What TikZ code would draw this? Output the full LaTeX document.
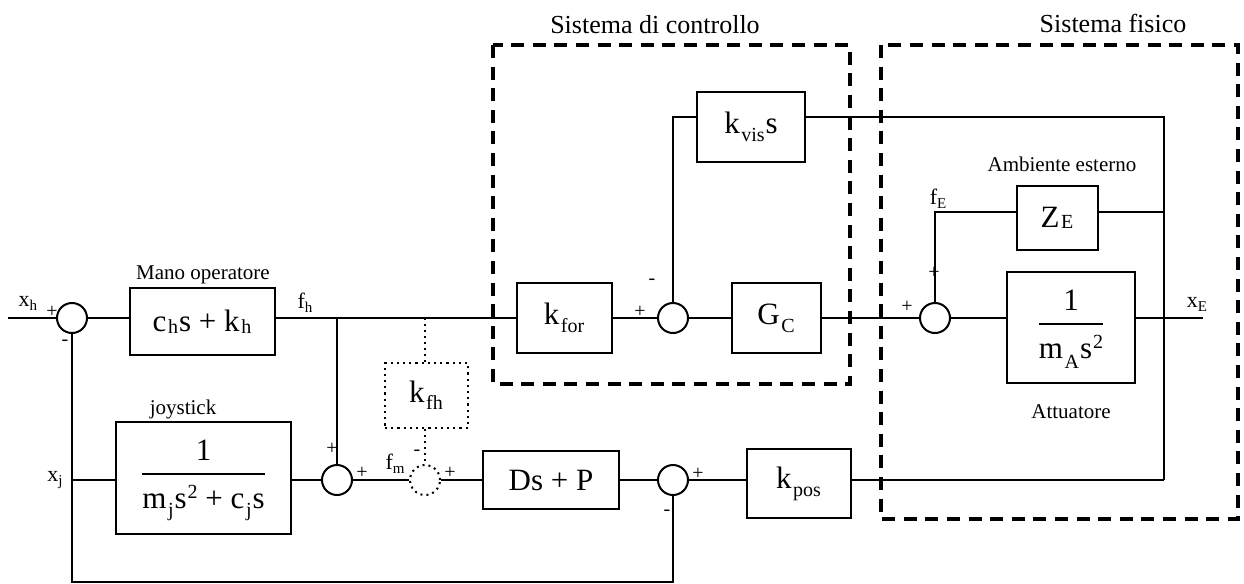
\documentclass[tikz,border=0pt]{standalone}
\usepackage{fontspec}
\setmainfont{Liberation Serif}
\usetikzlibrary{positioning}
\newcommand{\blkfont}{\fontsize{15.5}{18}\selectfont}
\newcommand{\subtx}[2][4pt]{\kern0.8pt\raisebox{-#1}{\fontsize{10}{11}\selectfont #2}\kern0.5pt}
\newcommand{\suptx}[1]{\kern0.5pt\raisebox{5pt}{\fontsize{10}{11}\selectfont #1}}
\newcommand{\lsub}[1]{\raisebox{-2pt}{\fontsize{7.5}{8}\selectfont #1}}
\newcommand{\blkfrac}[2]{\setlength{\arrayrulewidth}{0.8pt}%
  \begin{tabular}{@{}c@{}}#1\\[1pt]\hline\rule{0pt}{17pt}#2\end{tabular}}
\tikzset{
  ln/.style   = {line width=1pt},
  blk/.style  = {rectangle, draw, line width=1.1pt, inner sep=0pt,
                 font=\blkfont, align=center},
  blkd/.style = {blk, dotted, line width=1pt},
  sj/.style   = {circle, draw, line width=1pt, minimum size=15pt, inner sep=0pt},
  sjd/.style  = {sj, dotted},
  sgn/.style  = {font=\fontsize{10}{11}\selectfont, inner sep=0pt},
  lbl/.style  = {font=\fontsize{11}{12}\selectfont, inner sep=0pt},
  note/.style = {font=\fontsize{10.5}{12}\selectfont, inner sep=0pt},
  ttl/.style  = {font=\fontsize{13}{15}\selectfont, inner sep=0pt},
  grp/.style  = {draw, line width=2pt, dash pattern=on 6.5pt off 4.3pt},
}
\begin{document}
\begin{tikzpicture}[x=0.5pt,y=-0.5pt]
  \useasboundingbox (0,0) rectangle (1244,584);

  % --- frames
  \draw[grp] (493,45) rectangle (850,384);
  \draw[grp] (881,45) rectangle (1238,519);
  \node[ttl] (tctl) at (655,25) {Sistema di controllo};
  \node[ttl] (tfis) at (1113,23) {Sistema fisico};

  % --- upper row
  \node[sj] (s1) at (72,318) {};
  \node[blk, minimum width=72.5pt, minimum height=33.5pt] (hand) at (202.5,321.5)
    {c\subtx[1pt]{h}s + k\subtx[1pt]{h}};
  \node[blk, minimum width=47.5pt, minimum height=35pt] (kfor) at (564.5,318)
    {k\subtx{for}};
  \node[sj] (s2) at (673,318) {};
  \node[blk, minimum width=44.5pt, minimum height=35pt] (gc) at (776.5,318)
    {G\subtx{C}};
  \node[blk, minimum width=54pt, minimum height=35pt] (kvis) at (751,127)
    {k\subtx{vis}s};
  \node[sj] (s4) at (935,318) {};
  \node[blk, minimum width=40.5pt, minimum height=32pt] (ze) at (1057.5,218)
    {Z\subtx[0.5pt]{E}};
  \node[blk, minimum width=64pt, minimum height=55.5pt] (act) at (1071,327.5)
    {\blkfrac{1}{m\subtx[5pt]{A}s\suptx{2}}};

  % --- lower row
  \node[blk, minimum width=87.5pt, minimum height=56pt] (joy) at (203.5,478)
    {\blkfrac{1}{m\subtx{j}s\suptx{2} + c\subtx{j}s}};
  \node[sj] (s3) at (337,480) {};
  \node[sjd] (sm) at (425,480) {};
  \node[blkd, minimum width=41.5pt, minimum height=32.5pt] (kfh) at (426.5,395.5)
    {k\subtx[3.5pt]{fh}};
  \node[blk, minimum width=68pt, minimum height=29pt] (pd) at (551,480) {Ds + P};
  \node[sj] (s5) at (673,480) {};
  \node[blk, minimum width=52pt, minimum height=34.5pt] (kpos) at (799,483.5)
    {k\subtx{pos}};

  % --- points
  \coordinate (xin) at (8,318);
  \coordinate (fh) at (337,318);
  \coordinate (tap) at (425,318);
  \coordinate (vt) at (0,117);
  \coordinate (zt) at (0,212);
  \coordinate (rvb) at (1164,480);
  \coordinate (xout) at (1203,318);
  \coordinate (xj) at (72,480);
  \coordinate (bl) at (72,582);

  % --- connectors
  \draw[ln] (xin) -- (s1);
  \draw[ln] (s1) -- (hand.west |- s1);
  \draw[ln] (hand.east |- s1) -- (kfor);
  \draw[ln] (kfor) -- (s2);
  \draw[ln] (s2) -- (gc);
  \draw[ln] (gc) -- (s4);
  \draw[ln] (s4) -- (act.west |- s4);
  \draw[ln] (act.east |- s4) -- (xout);
  \draw[ln] (s2.north) |- (kvis.west |- vt);
  \draw[ln] (kvis.east |- vt) -| (rvb);
  \draw[ln] (rvb |- zt) -- (ze.east |- zt);
  \draw[ln] (s4.north) |- (ze.west |- zt);
  \draw[ln] (xj) -- (joy.west |- xj);
  \draw[ln] (joy.east |- s3) -- (s3);
  \draw[ln] (fh) -- (s3);
  \draw[ln] (s3) -- (sm);
  \draw[ln] (sm) -- (pd);
  \draw[ln] (pd) -- (s5);
  \draw[ln] (s5) -- (kpos.west |- s5);
  \draw[ln] (kpos.east |- s5) -- (rvb);
  \draw[ln] (s1) -- (bl) -| (s5);
  \draw[ln, dotted] (tap) -- (tap |- kfh.north);
  \draw[ln, dotted] (sm |- kfh.south) -- (sm);

  % --- signals
  \node[lbl] (lxh) at (28,303) {x\lsub{h}};
  \node[lbl] (lfh) at (305,303) {f\lsub{h}};
  \node[lbl] (lxj) at (55,480) {x\lsub{j}};
  \node[lbl] (lfm) at (395,464) {f\lsub{m}};
  \node[lbl] (lfe) at (938,199) {f\lsub{E}};
  \node[lbl] (lxe) at (1197,304) {x\lsub{E}};

  % --- signs
  \node[sgn] (s1p) at (52,312) {+};
  \node[sgn] (s1m) at (65,343) {-};
  \node[sgn] (s2p) at (640,312) {+};
  \node[sgn] (s2m) at (652,282) {-};
  \node[sgn] (s4p) at (907,307) {+};
  \node[sgn] (s4q) at (934,273) {+};
  \node[sgn] (s3p) at (332,449) {+};
  \node[sgn] (s3q) at (362,473) {+};
  \node[sgn] (smm) at (417,453) {-};
  \node[sgn] (smp) at (450,473) {+};
  \node[sgn] (s5p) at (698,474) {+};
  \node[sgn] (s5m) at (667,513) {-};

  % --- notes
  \node[note] (nhand) at (203,275) {Mano operatore};
  \node[note] (njoy) at (183,409) {joystick};
  \node[note] (namb) at (1062,164) {Ambiente esterno};
  \node[note] (natt) at (1071,412) {Attuatore};
\end{tikzpicture}
\end{document}
